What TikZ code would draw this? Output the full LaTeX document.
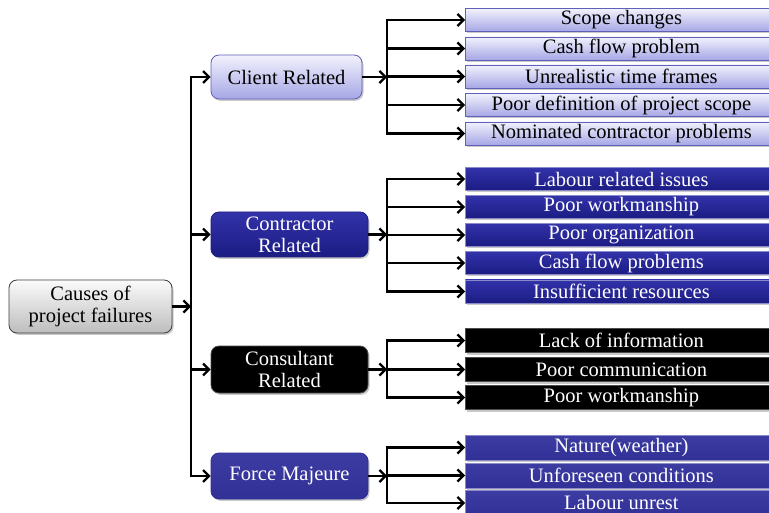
\documentclass[tikz,border=0pt]{standalone}
\usepackage{fontspec}
\setmainfont{Liberation Serif}
\usetikzlibrary{arrows.meta,shadows}
\definecolor{cliTop}{HTML}{F2F2FD}
\definecolor{cliBot}{HTML}{A6A6E6}
\definecolor{cliLine}{HTML}{6060B8}
\definecolor{conTop}{HTML}{3232AA}
\definecolor{conBot}{HTML}{1C1C84}
\definecolor{conLine}{HTML}{8A8AC8}
\definecolor{forTop}{HTML}{3C3CA2}
\definecolor{forBot}{HTML}{303096}
\definecolor{rootTop}{HTML}{FBFBFB}
\definecolor{rootBot}{HTML}{BDBDBD}
\begin{document}
\begin{tikzpicture}[x=1pt,y=-1pt,
  font=\fontsize{20.5}{22}\selectfont,
  arr/.style={line width=2.5pt,-{Straight Barb[length=6pt,width=12pt,line width=2.2pt]}},
  busline/.style={line width=2.5pt,line cap=rect},
  shad/.style={drop shadow={shadow xshift=1.5pt,shadow yshift=-1.8pt,opacity=0.35,fill=black!60}},
  catbox/.style={rounded corners=8pt,align=center,inner sep=0pt,line width=0.8pt,shad},
  leafbox/.style={anchor=west,minimum width=312pt,inner sep=0pt,line width=0.8pt,shad},
  cli/.style={top color=cliTop,bottom color=cliBot,draw=cliLine,text=black},
  con/.style={top color=conTop,bottom color=conBot,draw=conLine,text=white},
  cst/.style={fill=black,draw=black!70,text=white},
  frc/.style={top color=forTop,bottom color=forBot,draw=conLine,text=white}]
\clip (0,0) rectangle (769,513);
\fill[white] (0,0) rectangle (769,513);

% root
\node[catbox,top color=rootTop,bottom color=rootBot,draw=black!75,
  minimum width=163pt,minimum height=53pt] (root) at (90.5,306.5) {Causes of\\project failures};

% categories
\node[catbox,cli,minimum width=151pt,minimum height=44pt] (cli) at (286.5,77) {Client Related};
\node[catbox,con,draw=conBot,minimum width=157pt,minimum height=45pt] (con) at (289.5,234.5) {Contractor\\Related};
\node[catbox,cst,minimum width=157pt,minimum height=47pt] (cst) at (289.5,369.5) {Consultant\\Related};
\node[catbox,frc,draw=forBot,minimum width=157pt,minimum height=46pt] (frc) at (289.5,476) {Force Majeure};

% bus coordinates
\coordinate (bx) at (191,0);
\coordinate (sx) at (387,0);

% client leaves
\node[leafbox,cli,minimum height=23pt] (c1) at (465,20) {Scope changes};
\node[leafbox,cli,minimum height=23pt] (c2) at (465,48.5) {Cash flow problem};
\node[leafbox,cli,minimum height=23pt] (c3) at (465,76.5) {Unrealistic time frames};
\node[leafbox,cli,minimum height=23pt] (c4) at (465,105) {Poor definition of project scope};
\node[leafbox,cli,minimum height=23pt] (c5) at (465,133.5) {Nominated contractor problems};

% contractor leaves
\node[leafbox,con,minimum height=23pt] (k1) at (465,179) {Labour related issues};
\node[leafbox,con,minimum height=23pt] (k2) at (465,207) {Poor workmanship};
\node[leafbox,con,minimum height=23pt] (k3) at (465,235) {Poor organization};
\node[leafbox,con,minimum height=23pt] (k4) at (465,263) {Cash flow problems};
\node[leafbox,con,minimum height=23pt] (k5) at (465,291.5) {Insufficient resources};

% consultant leaves
\node[leafbox,cst,minimum height=24.5pt] (s1) at (465,340.5) {Lack of information};
\node[leafbox,cst,minimum height=24.5pt] (s2) at (465,369.5) {Poor communication};
\node[leafbox,cst,minimum height=24.5pt] (s3) at (465,397.5) {Poor workmanship};

% force majeure leaves
\node[leafbox,frc,minimum height=25pt] (f1) at (465,447.5) {Nature(weather)};
\node[leafbox,frc,minimum height=25pt] (f2) at (465,475.5) {Unforeseen conditions};
\node[leafbox,frc,minimum height=25pt] (f3) at (465,503) {\raisebox{1.5pt}{Labour unrest}};

% main bus
\draw[busline] (cli.west -| bx) -- (frc.west -| bx);
\draw[arr] (root.east) -- (root.east -| bx);
\foreach \n in {cli,con,cst,frc}{
  \draw[arr] (\n.west -| bx) -- (\n.west);
}

% sub buses
\draw[busline] (c1.west -| sx) -- (c5.west -| sx);
\draw[busline] (k1.west -| sx) -- (k5.west -| sx);
\draw[busline] (s1.west -| sx) -- (s3.west -| sx);
\draw[busline] (f1.west -| sx) -- (f3.west -| sx);
\foreach \n in {cli,con,cst,frc}{
  \draw[arr] (\n.east) -- (\n.east -| sx);
}
\foreach \n in {c1,c2,c3,c4,c5,k1,k2,k3,k4,k5,s1,s2,s3,f1,f2,f3}{
  \draw[arr] (\n.west -| sx) -- (\n.west);
}
\end{tikzpicture}
\end{document}
